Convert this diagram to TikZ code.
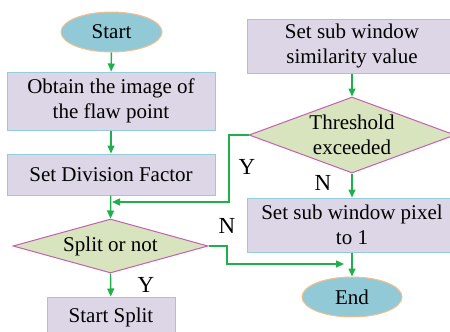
\documentclass[tikz,border=0pt]{standalone}
\usepackage{fontspec}
\setmainfont{Liberation Serif}
\usetikzlibrary{shapes.geometric,arrows.meta}
\definecolor{boxfill}{HTML}{DCD6E7}
\definecolor{boxdraw}{HTML}{93CDDD}
\definecolor{ellfill}{HTML}{92C9D6}
\definecolor{elldraw}{HTML}{F5BF8C}
\definecolor{diafill}{HTML}{D7E4BD}
\definecolor{diadraw}{HTML}{C45FB3}
\definecolor{arrgreen}{HTML}{1FAF4B}
\tikzset{
  base/.style={font=\fontsize{21}{25}\selectfont, align=center, inner sep=0pt, line width=1pt},
  procbox/.style={base, rectangle, fill=boxfill, draw=boxdraw},
  termell/.style={base, ellipse, fill=ellfill, draw=elldraw},
  decide/.style={base, diamond, aspect=2, fill=diafill, draw=diadraw},
  flow/.style={draw=arrgreen, line width=1.4pt, -{Triangle[length=8pt,width=7pt]}},
  lbl/.style={font=\fontsize{23}{25}\selectfont, inner sep=0pt}
}
\begin{document}
\begin{tikzpicture}[x=1pt,y=-1pt]
\useasboundingbox (0,0) rectangle (450,332);
\clip (0,0) rectangle (450,332);
\node[termell, minimum width=101pt, minimum height=40pt] (start) at (111.5,32) {Start};
\node[procbox, minimum width=208pt, minimum height=58pt] (obtain) at (111,101) {Obtain the image of\\the flaw point};
\node[procbox, minimum width=208pt, minimum height=41pt] (division) at (111,174.5) {Set Division Factor};
\node[decide, minimum width=195pt, minimum height=54pt] (split) at (110.5,246) {};
\node[base] at (split) {Split or not};
\node[procbox, minimum width=128pt, minimum height=40pt] (startsplit) at (111,317) {Start Split};
\node[procbox, minimum width=210pt, minimum height=54pt] (simval) at (352,46) {Set sub window\\similarity value};
\node[decide, minimum width=206pt, minimum height=76pt] (thresh) at (352,135) {};
\node[base] at (thresh) {Threshold\\exceeded};
\node[procbox, minimum width=210pt, minimum height=54pt] (pixel) at (352,225) {Set sub window pixel\\to 1};
\node[termell, minimum width=100pt, minimum height=40pt] (end) at (352,297) {End};

\coordinate (loop) at (229,202);
\coordinate (yjoin) at (112,202);
\coordinate (nturn) at (227,264);
\coordinate (njoin) at (344,264);

\draw[flow] (start) -- (obtain);
\draw[flow] (obtain) -- (division);
\draw[flow] (division) -- (split.north);
\draw[flow] (split.south) -- (startsplit);
\draw[flow] (simval) -- (thresh.north);
\draw[flow] (thresh.south) -- (pixel);
\draw[flow] (pixel) -- (end);
\draw[flow] (thresh.west) -| (loop) -- (yjoin);
\draw[flow] (split.east) -| (nturn) -- (njoin);

\node[lbl] (ly) at (247,167) {Y};
\node[lbl] (ln) at (323,183) {N};
\node[lbl] (ln2) at (227,226) {N};
\node[lbl] (ly2) at (146,285) {Y};
\end{tikzpicture}
\end{document}
